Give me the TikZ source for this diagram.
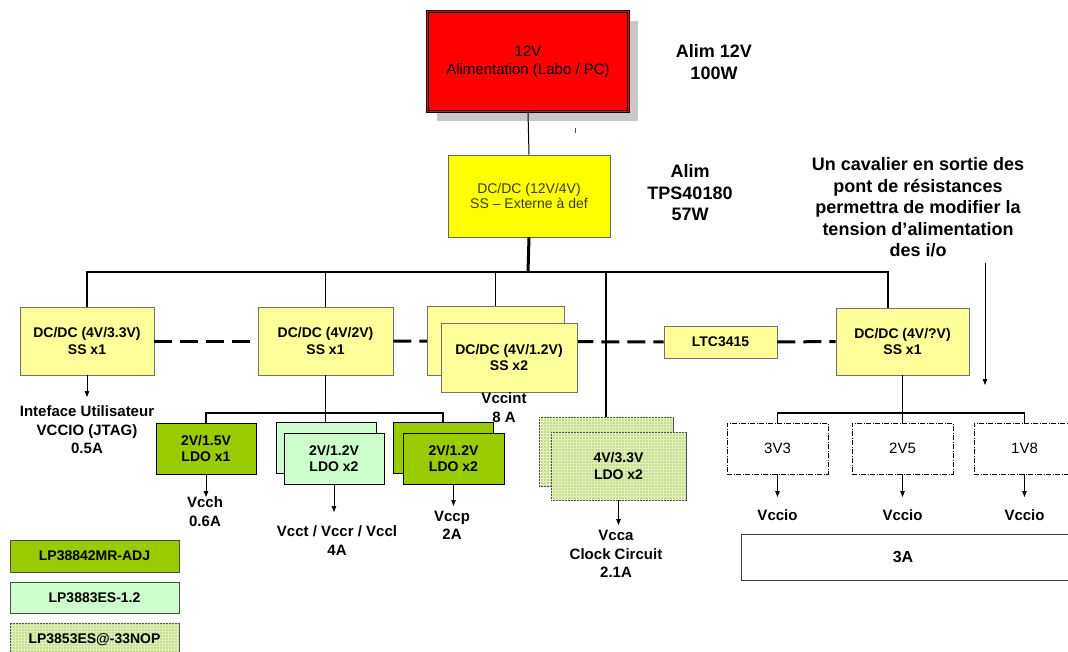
\documentclass[tikz,border=0pt]{standalone}
\usepackage{fontspec}
\setmainfont{Liberation Sans}
\usetikzlibrary{arrows.meta,patterns,shadows}
\definecolor{redA}{HTML}{FF0000}
\definecolor{yelA}{HTML}{FFFF00}
\definecolor{yelB}{HTML}{FFFF99}
\definecolor{grnA}{HTML}{99CC00}
\definecolor{grnB}{HTML}{CCFFCC}
\definecolor{grnC}{HTML}{C6E08C}
\definecolor{shad}{HTML}{C8C8C8}
\definecolor{olivetxt}{HTML}{3C3C14}
\newcommand\fBox{\fontsize{14}{16.5}\selectfont\bfseries}
\newcommand\fLbl{\fontsize{15}{18.5}\selectfont\bfseries}
\newcommand\fNote{\fontsize{18}{21.5}\selectfont\bfseries}
\newcommand\fReg{\fontsize{15}{18}\selectfont}
\newcommand\fRegS{\fontsize{14}{15.5}\selectfont}
\begin{document}
\begin{tikzpicture}[x=1pt,y=-1pt,
  box/.style={draw=black!55, line width=0.8pt, fill=yelB, font=\fBox, align=center, inner sep=0pt},
  ldobox/.style={draw=black, line width=0.8pt, font=\fBox, align=center, inner sep=0pt, minimum width=100pt, minimum height=51pt},
  patbox/.style={draw=black!70, line width=0.8pt, fill=grnC, postaction={pattern=grid, pattern color=white!45!grnC}, font=\fBox, align=center, inner sep=0pt},
  lbl/.style={font=\fLbl, align=center, inner sep=0pt},
  notelbl/.style={font=\fNote, align=center, inner sep=0pt},
  iobox/.style={draw, line width=0.7pt, dash pattern=on 5pt off 1.5pt on 1pt off 1.5pt, font=\fReg, minimum width=101pt, minimum height=51pt, inner sep=0pt},
  legbox/.style={draw=black!70, line width=0.8pt, font=\fBox, minimum width=169pt, inner sep=0pt},
  arr/.style={-{Triangle[length=6pt,width=4.5pt]}, line width=0.8pt},
  wire/.style={line width=1pt},
  buswire/.style={line width=1.5pt},
  thickwire/.style={line width=3pt},
  dashwire/.style={line width=3pt, dash pattern=on 18pt off 8pt}
]
\useasboundingbox (0,0) rectangle (1068,652);

% coordinates
\coordinate (bus) at (528,272);
\coordinate (b4) at (888,272);
\coordinate (sb2) at (325.5,413);
\coordinate (sb4) at (902.5,413);
\coordinate (tI) at (87,397);
\coordinate (t1) at (206,497);
\coordinate (t2) at (334,512);
\coordinate (t3) at (453.5,506);
\coordinate (t4) at (618.5,525);
\coordinate (tio1) at (777.5,497);
\coordinate (tio2) at (902.5,497);
\coordinate (tio3) at (1024.5,497);
\coordinate (na1) at (985,263);
\coordinate (na2) at (985,385);

% dashed links (behind boxes)
\coordinate (d1) at (154,341);
\coordinate (d2) at (258,341);

% top boxes
\node[draw=black, line width=0.8pt, double=redA, double distance=1.6pt, fill=redA,
      minimum width=201pt, minimum height=100pt, font=\fReg, align=center,
      drop shadow={shadow xshift=9pt, shadow yshift=-10pt, fill=shad, opacity=1}]
      (src) at (528,61.5) {12V\\Alimentation (Labo / PC)};
\node[draw=black!60, line width=0.8pt, fill=yelA, minimum width=162pt, minimum height=82pt,
      font=\fRegS, text=olivetxt, align=center] (main) at (529,196) {DC/DC (12V/4V)\\SS -- Externe à def};

\draw[line width=1pt, black!70] (575,128) -- (575,133);

\node[notelbl] (alim1) at (714,62) {Alim 12V\\100W};
\node[notelbl] (alim2) at (690,193) {Alim\\TPS40180\\57W};
\node[notelbl] (note) at (918,207.5) {Un cavalier en sortie des\\pont de résistances\\permettra de modifier la\\tension d’alimentation\\des i/o};

% second-level boxes
\node[box, minimum width=134pt, minimum height=68pt] (dc1) at (87,341) {DC/DC (4V/3.3V)\\SS x1};
\node[box, minimum width=135pt, minimum height=68pt] (dc2) at (325.5,341) {DC/DC (4V/2V)\\SS x1};
\node[box, minimum width=113pt, minimum height=32pt] (ltc) at (720.5,342) {LTC3415};
\node[box, minimum width=133pt, minimum height=67pt] (dc4) at (902.5,341.5) {DC/DC (4V/?V)\\SS x1};

% connectors under the stacked boxes
\draw[dashwire] (dc1.east) -- (dc2.west);
\draw[dashwire] (dc2.east) -- (ltc.west);
\draw[dashwire] (ltc.east) -- (dc4.west);

\node[box, minimum width=137pt, minimum height=69pt] (dc3b) at (495.5,340.5) {};
\node[box, minimum width=136pt, minimum height=69pt] (dc3f) at (509,357.5) {DC/DC (4V/1.2V)\\SS x2};

% main bus
\draw[wire] (src.south) -- (main.north);
\draw[thickwire] (main.south) -- (bus);
\draw[buswire] (dc1.north) |- (bus) -- (b4) -- (b4 |- dc4.north);
\draw[buswire] (dc2.north) -- (dc2.north |- bus);
\draw[buswire] (dc3b.north) -- (dc3b.north |- bus);

% LDO boxes
\node[ldobox, fill=grnA] (ldo1) at (206,448.5) {2V/1.5V\\LDO x1};
\node[ldobox, fill=grnB] (ldo2b) at (326,448) {};
\node[ldobox, fill=grnB] (ldo2f) at (334,458.5) {2V/1.2V\\LDO x2};
\node[ldobox, fill=grnA] (ldo3b) at (443,448) {};
\node[ldobox, fill=grnA, minimum width=101pt] (ldo3f) at (453.5,458.5) {2V/1.2V\\LDO x2};
\node[patbox, minimum width=134pt, minimum height=69pt] (ldo4b) at (606,451.5) {};
\node[patbox, minimum width=135pt, minimum height=68pt] (ldo4f) at (618.5,466) {4V/3.3V\\LDO x2};
\draw[buswire] (ldo4b.north) -- (ldo4b.north |- bus);

% sub-bus of DC/DC 4V/2V
\draw[buswire] (dc2.south) -- (dc2.south |- ldo2b.north);
\draw[buswire] (ldo1.north) |- (sb2) -| (ldo3b.north);

% I/O boxes
\node[iobox] (io1) at (777.5,448.5) {3V3};
\node[iobox] (io2) at (902.5,448.5) {2V5};
\node[iobox] (io3) at (1024.5,448.5) {1V8};
\draw[buswire] (dc4.south) -- (io2.north);
\draw[buswire] (io1.north) |- (sb4) -| (io3.north);

% labels
\node[lbl] (intf) at (87,430) {Inteface Utilisateur\\VCCIO (JTAG)\\0.5A};
\node[lbl] (vccint) at (504,407.5) {Vccint\\8 A};
\node[lbl] (vcch) at (205,511.5) {Vcch\\0.6A};
\node[lbl] (vcct) at (337,540.5) {Vcct / Vccr / Vccl\\4A};
\node[lbl] (vccp) at (452,525.5) {Vccp\\2A};
\node[lbl] (vcca) at (616,554) {Vcca\\Clock Circuit\\2.1A};
\node[lbl] (vio1) at (777.5,515) {Vccio};
\node[lbl] (vio2) at (902.5,515) {Vccio};
\node[lbl] (vio3) at (1024.5,515) {Vccio};
\node[draw=black!75, line width=0.8pt, minimum width=334pt, minimum height=46pt] (iorange) at (908,557) {};
\node[font=\fontsize{16}{18}\selectfont\bfseries] (ia) at (903,557) {3A};

% arrows
\draw[arr] (dc1.south) -- (tI);
\draw[arr] (ldo1.south) -- (t1);
\draw[arr] (ldo2f.south) -- (t2);
\draw[arr] (ldo3f.south) -- (t3);
\draw[arr] (ldo4f.south) -- (t4);
\draw[arr] (io1.south) -- (tio1);
\draw[arr] (io2.south) -- (tio2);
\draw[arr] (io3.south) -- (tio3);
\draw[arr] (na1) -- (na2);

% legend
\node[legbox, fill=grnA, minimum height=32pt] (leg1) at (94.5,556) {LP38842MR-ADJ};
\node[legbox, fill=grnB, minimum height=31pt] (leg2) at (94.5,597.5) {LP3883ES-1.2};
\node[legbox, patbox, minimum width=169pt, minimum height=33pt, anchor=north] (leg3) at (94.5,623) {LP3853ES@-33NOP};
\end{tikzpicture}
\end{document}
